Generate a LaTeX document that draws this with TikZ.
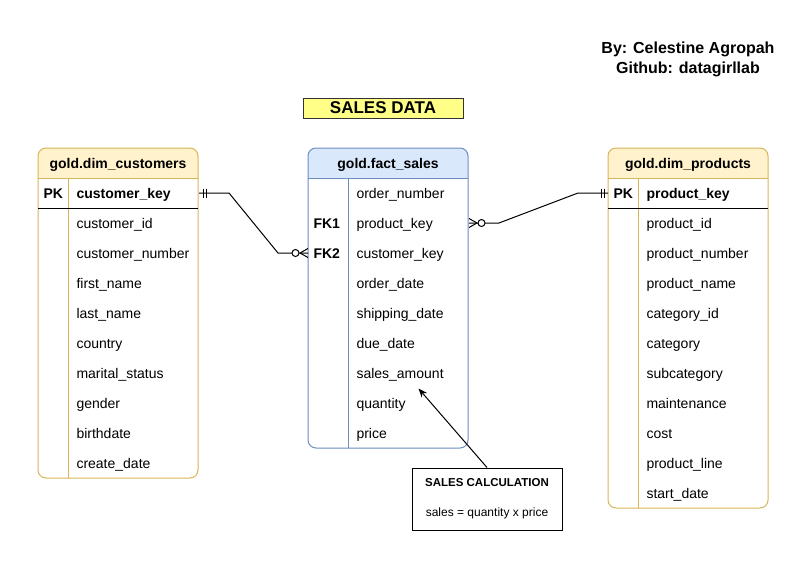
\documentclass[tikz,border=0pt]{standalone}
\usepackage{fontspec}
\setmainfont{Liberation Sans}
\usetikzlibrary{arrows.meta}
\definecolor{dimfill}{HTML}{FFF2CC}
\definecolor{dimline}{HTML}{D6B656}
\definecolor{factfill}{HTML}{DAE8FC}
\definecolor{factline}{HTML}{6C8EBF}
\definecolor{titlefill}{HTML}{FFFF88}

\begin{document}
\begin{tikzpicture}[x=1pt,y=-1pt,line width=1pt]
\tikzstyle{every node}+=[inner sep=0pt]
\tikzstyle{field}=[anchor=west,minimum height=30pt,inner xsep=8pt,text width=114pt,text height=10pt,text depth=0pt,align=left,font=\fontsize{14}{16}\selectfont]
\tikzstyle{keyfield}=[field,font=\bfseries\fontsize{14}{16}\selectfont]
\tikzstyle{keycol}=[anchor=west,minimum height=30pt,inner xsep=5pt,text width=20pt,text height=10pt,text depth=0pt,align=left,font=\bfseries\fontsize{14}{16}\selectfont]
\tikzstyle{tabhead}=[text height=10pt,text depth=0pt,font=\bfseries\fontsize{14}{16}\selectfont]
\tikzstyle{rel}=[draw=black,line width=1pt]
\tikzstyle{titlebox}=[draw=black!80,fill=titlefill,minimum width=160pt,minimum height=20pt,font=\bfseries\fontsize{17}{20}\selectfont]
\tikzstyle{authortext}=[align=center,font=\bfseries\fontsize{16}{20}\selectfont]
\tikzstyle{notebox}=[draw=black,fill=white,minimum width=150pt,minimum height=62pt,align=center,font=\fontsize{12}{14}\selectfont]
\useasboundingbox (0,0) rectangle (807,568);

% title and author
\node[titlebox] (title) at (383,108) {SALES DATA};
\node[authortext] (author) at (688,59.6) {By: Celestine Agropah\\Github: datagirllab};

% gold.dim_customers
\begin{scope}
\clip[rounded corners=8pt] (38,148) rectangle (198,478);
\fill[dimfill] (38,148) rectangle (198,178);
\end{scope}
\draw[dimline,rounded corners=8pt] (38,148) rectangle (198,478);
\draw[dimline] (38,178) -- (198,178);
\draw[dimline] (68,178) -- (68,478);
\draw[black] (38,208) -- (198,208);
\node[tabhead] (cust) at (118,163) {gold.dim\_customers};
\node[keycol] (cpk) at (38,193) {PK};
\node[keyfield] (ckey) at (68,193) {customer\_key};
\node[field] (cid) at (68,223) {customer\_id};
\node[field] (cnum) at (68,253) {customer\_number};
\node[field] (cfirst) at (68,283) {first\_name};
\node[field] (clast) at (68,313) {last\_name};
\node[field] (ccountry) at (68,343) {country};
\node[field] (cmarital) at (68,373) {marital\_status};
\node[field] (cgender) at (68,403) {gender};
\node[field] (cbirth) at (68,433) {birthdate};
\node[field] (ccreate) at (68,463) {create\_date};

% gold.fact_sales
\begin{scope}
\clip[rounded corners=8pt] (308,148) rectangle (468,448);
\fill[factfill] (308,148) rectangle (468,178);
\end{scope}
\draw[factline,rounded corners=8pt] (308,148) rectangle (468,448);
\draw[factline] (308,178) -- (468,178);
\draw[factline] (348,178) -- (348,448);
\node[tabhead] (fact) at (388,163) {gold.fact\_sales};
\node[keycol,text width=30pt] (ffk1) at (308,223) {FK1};
\node[keycol,text width=30pt] (ffk2) at (308,253) {FK2};
\node[field,text width=104pt] (fonum) at (348,193) {order\_number};
\node[field,text width=104pt] (fpkey) at (348,223) {product\_key};
\node[field,text width=104pt] (fckey) at (348,253) {customer\_key};
\node[field,text width=104pt] (fodate) at (348,283) {order\_date};
\node[field,text width=104pt] (fsdate) at (348,313) {shipping\_date};
\node[field,text width=104pt] (fddate) at (348,343) {due\_date};
\node[field,text width=104pt] (famt) at (348,373) {sales\_amount};
\node[field,text width=104pt] (fqty) at (348,403) {quantity};
\node[field,text width=104pt] (fprice) at (348,433) {price};

% gold.dim_products
\begin{scope}
\clip[rounded corners=8pt] (608,148) rectangle (768,508);
\fill[dimfill] (608,148) rectangle (768,178);
\end{scope}
\draw[dimline,rounded corners=8pt] (608,148) rectangle (768,508);
\draw[dimline] (608,178) -- (768,178);
\draw[dimline] (638,178) -- (638,508);
\draw[black] (608,208) -- (768,208);
\node[tabhead] (prod) at (688,163) {gold.dim\_products};
\node[keycol] (ppk) at (608,193) {PK};
\node[keyfield] (pkey) at (638,193) {product\_key};
\node[field] (pid) at (638,223) {product\_id};
\node[field] (pnum) at (638,253) {product\_number};
\node[field] (pname) at (638,283) {product\_name};
\node[field] (pcid) at (638,313) {category\_id};
\node[field] (pcat) at (638,343) {category};
\node[field] (psub) at (638,373) {subcategory};
\node[field] (pmaint) at (638,403) {maintenance};
\node[field] (pcost) at (638,433) {cost};
\node[field] (pline) at (638,463) {product\_line};
\node[field] (pstart) at (638,493) {start\_date};

% customers -> fact_sales
\draw[rel] (ckey.east) -- ++(30,0) -- ([xshift=-30pt]ffk2.west) -- (ffk2.west);
\draw[rel] ([shift={(4,-4.5)}]ckey.east) -- ++(0,9);
\draw[rel] ([shift={(7,-4.5)}]ckey.east) -- ++(0,9);
\draw[rel] ([xshift=-8pt]ffk2.west) -- ([yshift=-4.5pt]ffk2.west);
\draw[rel] ([xshift=-8pt]ffk2.west) -- ([yshift=4.5pt]ffk2.west);
\draw[rel,fill=white] ([xshift=-12.5pt]ffk2.west) circle (3.5pt);

% fact_sales -> products
\draw[rel] (fpkey.east) -- ++(30,0) -- ([xshift=-30pt]ppk.west) -- (ppk.west);
\draw[rel] ([shift={(-4,-4.5)}]ppk.west) -- ++(0,9);
\draw[rel] ([shift={(-7,-4.5)}]ppk.west) -- ++(0,9);
\draw[rel] ([xshift=8pt]fpkey.east) -- ([yshift=-4.5pt]fpkey.east);
\draw[rel] ([xshift=8pt]fpkey.east) -- ([yshift=4.5pt]fpkey.east);
\draw[rel,fill=white] ([xshift=12.5pt]fpkey.east) circle (3.5pt);

% sales calculation note
\node[notebox] (calc) at (487,499) {{\bfseries\fontsize{11.5}{14}\selectfont SALES CALCULATION}\\[16pt]sales = quantity x price};
\draw[rel,-{Stealth[length=9pt,width=7pt]}] (calc.north) -- ([xshift=10pt]famt.south);
\end{tikzpicture}
\end{document}
